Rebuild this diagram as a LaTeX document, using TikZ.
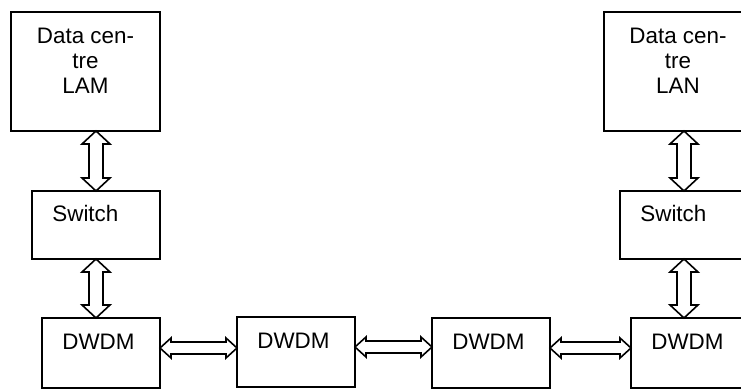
\documentclass[tikz,border=0pt]{standalone}
\usepackage{fontspec}
\setmainfont{Liberation Sans}
\usetikzlibrary{calc}
\newcommand{\vlink}[2]{\draw[link] let \p1=(#1), \p2=(#2) in (\x1,\y1) -- (\x1+7pt,\y1-6.5pt) -- (\x1+3.5pt,\y1-6.5pt) -- (\x1+3.5pt,\y2+6.5pt) -- (\x1+7pt,\y2+6.5pt) -- (\x1,\y2) -- (\x1-7pt,\y2+6.5pt) -- (\x1-3.5pt,\y2+6.5pt) -- (\x1-3.5pt,\y1-6.5pt) -- (\x1-7pt,\y1-6.5pt) -- cycle;}
\newcommand{\hlink}[2]{\draw[link] let \p1=(#1), \p2=(#2) in (\x1,\y1) -- (\x1+5.5pt,\y1+5pt) -- (\x1+5.5pt,\y1+3pt) -- (\x2-5.5pt,\y1+3pt) -- (\x2-5.5pt,\y1+5pt) -- (\x2,\y1) -- (\x2-5.5pt,\y1-5pt) -- (\x2-5.5pt,\y1-3pt) -- (\x1+5.5pt,\y1-3pt) -- (\x1+5.5pt,\y1-5pt) -- cycle;}
\begin{document}
\begin{tikzpicture}[x=0.5pt,y=-0.5pt,
  box/.style={draw,line width=0.8pt,outer sep=0pt,inner sep=0pt,minimum height=#1},
  txt/.style={inner sep=0pt,font=\fontsize{11.2}{12.5}\selectfont},
  link/.style={draw,fill=white,line width=0.8pt,line join=miter}]
\useasboundingbox (0,0) rectangle (741,389);
\clip (0,0) rectangle (741,389);
\node[box=59.5pt,minimum width=74.5pt] (dcL) at (85.5,71.5) {};
\node[txt,align=center,anchor=north] (dcLtxt) at ([yshift=-8pt]dcL.north) {Data cen-\\tre\\LAM};
\node[box=59.5pt,minimum width=74pt] (dcR) at (678,71.5) {};
\node[txt,align=center,anchor=north] (dcRtxt) at ([yshift=-8pt]dcR.north) {Data cen-\\tre\\LAN};
\node[box=34pt,minimum width=64pt] (swL) at (96,225) {};
\node[txt,anchor=north west] (swLtxt) at ([xshift=10pt,yshift=-7pt]swL.north west) {Switch};
\node[box=34pt,minimum width=64pt] (swR) at (684,225) {};
\node[txt,anchor=north west] (swRtxt) at ([xshift=10pt,yshift=-7pt]swR.north west) {Switch};
\node[box=35pt,minimum width=59pt] (dwA) at (101,353) {};
\node[box=35pt,minimum width=59pt] (dwB) at (296,352) {};
\node[box=35pt,minimum width=59pt] (dwC) at (491,353) {};
\node[box=35pt,minimum width=59pt] (dwD) at (690,353) {};
\foreach \n in {dwA,dwB,dwC,dwD}
  \node[txt,anchor=north west] (\n txt) at ([xshift=10pt,yshift=-8pt]\n.north west) {DWDM};
\vlink{dcL.south -| swL.north}{swL.north}
\vlink{swL.south}{dwA.north -| swL.south}
\vlink{dcR.south -| swR.north}{swR.north}
\vlink{swR.south}{dwD.north -| swR.south}
\hlink{[yshift=2.5pt]dwA.east}{dwB.west}
\hlink{[yshift=2.5pt]dwB.east}{dwC.west}
\hlink{[yshift=2.5pt]dwC.east}{dwD.west}
\end{tikzpicture}
\end{document}
